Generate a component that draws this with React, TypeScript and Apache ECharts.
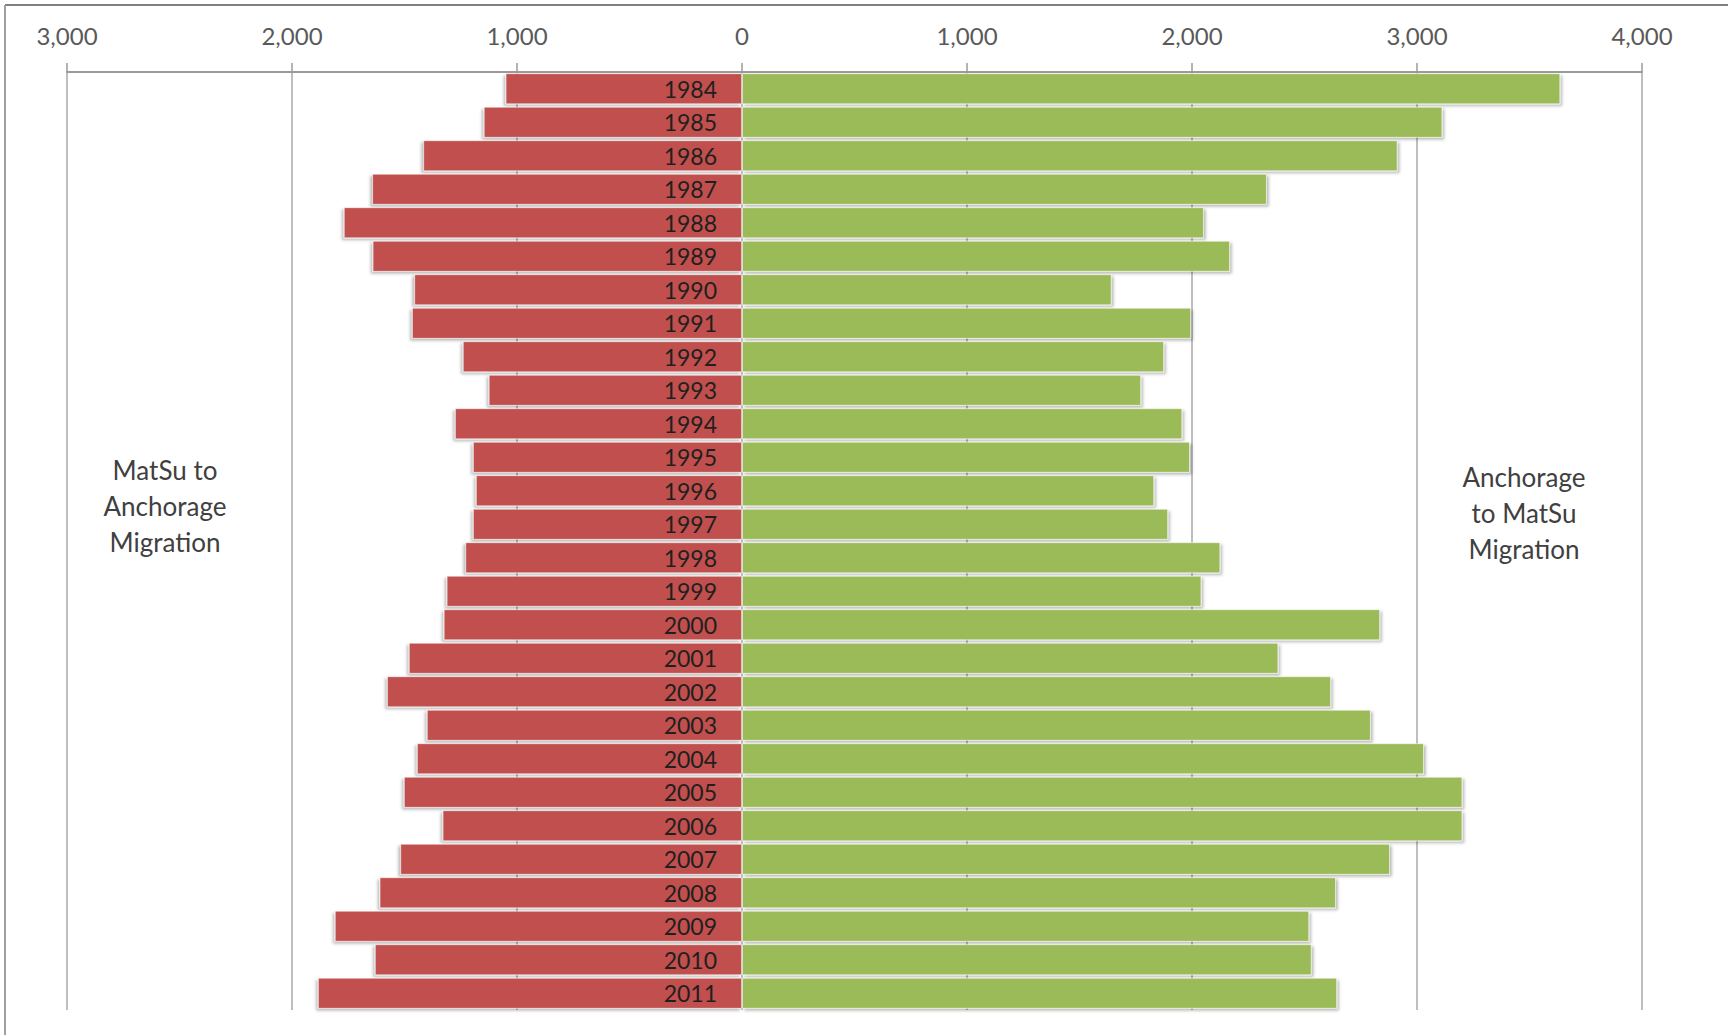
import React, { useEffect, useRef } from "react";
import * as echarts from "echarts";

const years = [
  "1984", "1985", "1986", "1987", "1988", "1989", "1990", "1991", "1992", "1993",
  "1994", "1995", "1996", "1997", "1998", "1999", "2000", "2001", "2002", "2003",
  "2004", "2005", "2006", "2007", "2008", "2009", "2010", "2011",
];

// MatSu to Anchorage (drawn to the left)
const matsuToAnchorage = [
  1051, 1148, 1417, 1644, 1770, 1642, 1457, 1467, 1241, 1126,
  1276, 1196, 1183, 1196, 1230, 1313, 1326, 1481, 1578, 1401,
  1445, 1503, 1331, 1519, 1611, 1810, 1632, 1885,
];

// Anchorage to MatSu (drawn to the right)
const anchorageToMatsu = [
  3637, 3113, 2914, 2333, 2053, 2169, 1643, 1996, 1876, 1774,
  1957, 1991, 1832, 1894, 2126, 2042, 2836, 2384, 2618, 2795,
  3031, 3202, 3202, 2880, 2640, 2521, 2532, 2645,
];

const axisMin = -3000;
const axisMax = 4000;
const axisStep = 1000;

const leftLabel = "MatSu to\nAnchorage\nMigration";
const rightLabel = "Anchorage\nto MatSu\nMigration";

const FONT = "Lato, 'Open Sans', sans-serif";

export default function App() {
  const ref = useRef<HTMLDivElement>(null);

  useEffect(() => {
    if (!ref.current) return;
    const chart = echarts.init(ref.current, undefined, { renderer: "svg" });
    const fmt = (v: number) => Math.abs(v).toLocaleString("en-US");
    chart.setOption({
      animation: false,
      backgroundColor: "#ffffff",
      grid: { left: 67, right: 86, top: 72, bottom: 25, containLabel: false },
      xAxis: {
        type: "value",
        position: "top",
        min: axisMin,
        max: axisMax,
        interval: axisStep,
        axisLine: { show: true, onZero: false, lineStyle: { color: "#9a9a9a", width: 2 } },
        axisTick: { show: true, length: 9, lineStyle: { color: "#9a9a9a", width: 1.5 } },
        axisLabel: {
          formatter: (v: number) => fmt(v),
          color: "#595959",
          fontFamily: FONT,
          fontSize: 24,
          margin: 25,
        },
        splitLine: { show: true, lineStyle: { color: "#a8a8a8", width: 1.5 } },
      },
      yAxis: {
        type: "category",
        data: years,
        inverse: true,
        axisLine: { show: false },
        axisTick: { show: false },
        axisLabel: { show: false },
        splitLine: { show: false },
      },
      series: [
        {
          name: "MatSu to Anchorage",
          type: "bar",
          stack: "total",
          barCategoryGap: "7%",
          data: matsuToAnchorage.map((v) => -v),
          itemStyle: {
            color: "#C0504D",
            borderColor: "rgba(255,255,255,0.55)",
            borderWidth: 1,
            shadowColor: "rgba(0,0,0,0.28)",
            shadowBlur: 3,
            shadowOffsetX: -2,
            shadowOffsetY: 2,
          },
        },
        {
          name: "Anchorage to MatSu",
          type: "bar",
          stack: "total",
          barCategoryGap: "7%",
          data: anchorageToMatsu,
          itemStyle: {
            color: "#9BBB59",
            borderColor: "rgba(255,255,255,0.55)",
            borderWidth: 1,
            shadowColor: "rgba(0,0,0,0.28)",
            shadowBlur: 3,
            shadowOffsetX: 2,
            shadowOffsetY: 2,
          },
          label: {
            show: true,
            position: "left",
            distance: 25,
            formatter: "{b}",
            color: "#1f1f1f",
            fontFamily: FONT,
            fontSize: 23,
          },
        },
      ],
      graphic: [
        {
          type: "line",
          shape: { x1: 5, y1: 5, x2: 1728, y2: 5 },
          style: { stroke: "#808080", lineWidth: 2 },
        },
        {
          type: "line",
          shape: { x1: 5, y1: 5, x2: 5, y2: 1035 },
          style: { stroke: "#a0a0a0", lineWidth: 2 },
        },
        {
          type: "text",
          x: 165,
          y: 506,
          style: {
            text: leftLabel,
            fill: "#404040",
            font: `26px ${FONT}`,
            lineHeight: 36,
            align: "center",
            verticalAlign: "middle",
          },
        },
        {
          type: "text",
          x: 1524,
          y: 513,
          style: {
            text: rightLabel,
            fill: "#404040",
            font: `26px ${FONT}`,
            lineHeight: 36,
            align: "center",
            verticalAlign: "middle",
          },
        },
      ],
    });
    return () => chart.dispose();
  }, []);

  return (
    <div
      ref={ref}
      style={{ position: "fixed", left: 0, top: 0, width: 1728, height: 1035 }}
    />
  );
}
